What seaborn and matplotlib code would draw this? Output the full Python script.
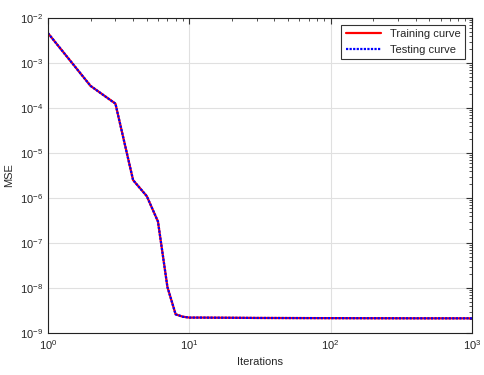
import numpy as np
import pandas as pd
import matplotlib
matplotlib.use("Agg")
import matplotlib.pyplot as plt
import seaborn as sns

iterations = [1, 2, 3, 4, 5, 6, 7, 8, 9, 10, 12, 15, 20, 30, 50, 100, 200, 500, 1000]
train_mse = [4.6e-3, 3.1e-4, 1.25e-4, 2.5e-6, 1.1e-6, 3.0e-7, 1.05e-8, 2.6e-9, 2.3e-9, 2.2e-9,
             2.2e-9, 2.19e-9, 2.18e-9, 2.16e-9, 2.15e-9, 2.14e-9, 2.13e-9, 2.12e-9, 2.12e-9]
test_mse = [4.6e-3, 3.1e-4, 1.25e-4, 2.5e-6, 1.1e-6, 3.0e-7, 1.05e-8, 2.6e-9, 2.3e-9, 2.2e-9,
            2.2e-9, 2.19e-9, 2.18e-9, 2.16e-9, 2.15e-9, 2.14e-9, 2.13e-9, 2.12e-9, 2.12e-9]

df = pd.DataFrame({"Iterations": iterations, "Train": train_mse, "Test": test_mse})

sns.set_style("white")
plt.rcParams["font.family"] = ["Liberation Sans", "DejaVu Sans"]
plt.rcParams["xtick.direction"] = "in"
plt.rcParams["ytick.direction"] = "in"

fig = plt.figure(figsize=(4.85, 3.75), dpi=100)
ax = fig.add_axes([0.099, 0.112, 0.874, 0.840])

sns.lineplot(data=df, x="Iterations", y="Train", color="red", linewidth=1.6,
             label="Training curve", ax=ax)
sns.lineplot(data=df, x="Iterations", y="Test", color="blue", linewidth=1.6,
             linestyle=(0, (1, 0.6)), label="Testing curve", ax=ax)

ax.set_xscale("log")
ax.set_yscale("log")
ax.set_xlim(1, 1000)
ax.set_ylim(1e-9, 1e-2)
ax.set_xlabel("Iterations", fontsize=8)
ax.set_ylabel("MSE", fontsize=8)
ax.yaxis.set_major_locator(matplotlib.ticker.LogLocator(base=10, numticks=20))
ax.yaxis.set_minor_locator(matplotlib.ticker.LogLocator(base=10, subs=np.arange(2, 10), numticks=20))
ax.yaxis.set_minor_formatter(matplotlib.ticker.NullFormatter())
ax.xaxis.set_minor_formatter(matplotlib.ticker.NullFormatter())
ax.tick_params(which="both", top=True, right=True, labelsize=8, color="#333333")
ax.tick_params(which="major", length=4)
ax.tick_params(which="minor", length=2)
ax.grid(True, which="major", color="#e0e0e0", linewidth=0.8)
for s in ax.spines.values():
    s.set_color("#222222")
    s.set_linewidth(0.8)

leg = ax.legend(loc="upper right", fontsize=8, frameon=True, fancybox=False,
                edgecolor="black", handlelength=3.2, borderaxespad=0.6)
leg.get_frame().set_linewidth(0.8)

fig.savefig("out.png", dpi=100, facecolor="white")
